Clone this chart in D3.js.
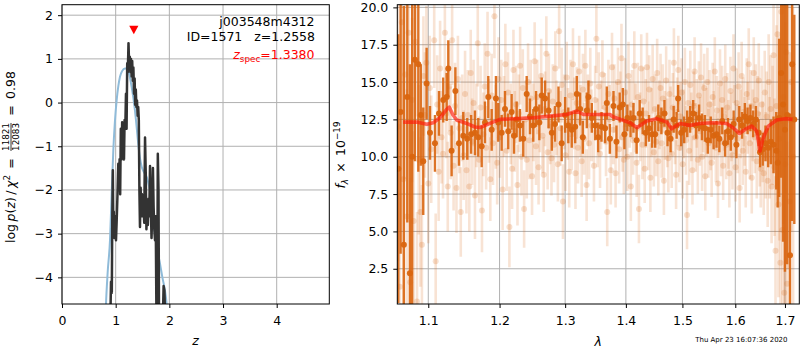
<!DOCTYPE html>
<html><head><meta charset="utf-8">
<script src="https://cdn.jsdelivr.net/npm/d3@7"></script>
<style>body{margin:0;background:#fff;} text{font-family:"DejaVu Sans",sans-serif;}</style>
</head><body><svg id="c" width="800" height="350"></svg>
<script>
// ---------------- data ----------------
// left panel: log p(z) (dark) and smoothed fit curve (blue)
const pzZ   = [0.903,0.913,0.928,0.937,0.947,0.956,0.965,0.978,0.991,1.006,1.019,1.034,1.049,1.062,1.073,1.084,1.096,1.109,1.121,1.132,1.144,1.155,1.166,1.179,1.192,1.203,1.215,1.226,1.239,1.252,1.263,1.274,1.286,1.297,1.308,1.319,1.330,1.342,1.353,1.364,1.375,1.386,1.397,1.409,1.420,1.431,1.442,1.453,1.465,1.477,1.491,1.504,1.517,1.532,1.547,1.560,1.573,1.586,1.599,1.612,1.625,1.640,1.655,1.668,1.681,1.694,1.707,1.720,1.733,1.746,1.759,1.774,1.785,1.798,1.807,1.882,1.893,1.908,1.919];
const pzLog = [-4.8,-4.1,-4.35,-2.6,-1.55,-2.9,-2.5,-3.1,-2.6,-3.15,-2.7,-2.1,-1.4,-2.0,-1.3,-2.1,-0.6,-1.3,-0.45,-1.2,-0.5,-1.3,-0.4,-0.6,0.2,-0.6,0.9,0.7,1.36,0.8,1.05,0.7,1.0,0.6,0.95,0.5,0.8,0.2,0.55,-0.05,0.3,-0.1,0.05,-0.3,-0.1,-0.4,-2.0,-2.85,-1.95,-2.6,-2.1,-2.6,-2.3,-2.75,-0.8,-1.6,-2.9,-2.3,-2.8,-2.2,-2.6,-1.45,-2.4,-3.1,-2.5,-1.5,-2.4,-2.9,-3.15,-2.6,-4.8,-4.8,-1.17,-2.0,-4.8,-4.8,-4.2,-4.3,-4.8];
const fitZ   = [0.80,0.82,0.85,0.894,0.925,0.956,0.985,1.018,1.05,1.08,1.12,1.173,1.205,1.235,1.265,1.297,1.33,1.359,1.39,1.42,1.45,1.484,1.53,1.577,1.62,1.67,1.70,1.73,1.78,1.825,1.87,1.918,1.95,1.97];
const fitLog = [-5.3,-4.6,-3.9,-3.15,-2.1,-1.09,-0.45,0.05,0.38,0.59,0.72,0.78,0.78,0.74,0.58,0.36,0.1,-0.18,-0.55,-0.94,-1.25,-1.47,-1.6,-1.70,-1.9,-2.24,-2.6,-3.0,-3.4,-3.68,-4.0,-4.3,-4.61,-4.9];
const zSpec = 1.338, zSpecMarker = 1.66;
const zTicks = [0,1,2,3,4];
const logTicks = [-4,-3,-2,-1,0,1,2];
const infoLines = ["j003548m4312", "ID=1571   z=1.2558"];
const zSpecLabel = "=1.3380";

// right panel: spectrum
const lamTicks = [1.1,1.2,1.3,1.4,1.5,1.6,1.7];
const fluxTicks = [2.5,5.0,7.5,10.0,12.5,15.0,17.5,20.0];
// combined spectrum [lambda, flux, err]
const binned = [
[1.0605,9.2,9.0],[1.0635,13.0,9.5],[1.0677,4.1,16.0],[1.0722,14.0,8.4],[1.0756,2.2,14.0],[1.0786,10.0,12.0],[1.0822,16.5,6.8],[1.0867,16.2,7.2],[1.0900,12.8,3.4],[1.0933,9.7,3.6],[1.0978,14.9,2.4],
[1.1023,11.6,1.8],[1.1090,10.9,1.9],[1.1145,12.9,1.5],[1.1203,13.8,1.5],[1.1250,14.0,1.6],[1.1272,15.9,1.9],[1.1318,10.4,1.7],[1.1370,14.4,1.6],[1.1420,10.9,1.5],[1.1480,11.4,1.6],[1.1536,11.2,1.4],[1.1590,11.5,1.3],[1.1645,11.6,1.5],[1.1692,11.3,1.3],[1.1741,10.7,1.4],[1.1788,12.3,1.4],[1.1836,14.0,1.4],[1.1885,11.8,1.4],[1.1947,13.9,1.5],[1.1981,12.3,1.3],
[1.2031,11.6,1.2],[1.2080,13.2,1.2],[1.2128,11.7,1.2],[1.2178,13.0,1.2],[1.2213,11.4,1.2],[1.2253,12.5,1.2],[1.2302,12.1,1.1],[1.2352,11.2,1.2],[1.2404,14.2,1.2],[1.2454,12.7,1.2],[1.2504,12.1,1.1],[1.2546,13.2,1.2],[1.2597,12.3,1.2],[1.2634,14.1,1.2],[1.2685,13.9,1.2],[1.2740,13.1,1.2],[1.2790,11.6,1.2],[1.2840,12.2,1.2],[1.2895,13.5,1.2],[1.2945,10.9,1.2],[1.3000,12.8,1.2],[1.3050,12.1,1.2],[1.3105,11.8,1.2],[1.3160,12.0,1.1],[1.3186,14.2,1.2],[1.3240,13.2,1.1],[1.3283,11.3,1.1],[1.3348,13.1,1.2],[1.3375,14.0,1.1],[1.3430,12.6,1.0],[1.3485,12.1,1.0],[1.3535,11.3,1.0],[1.3590,12.0,1.0],[1.3650,11.9,1.0],[1.3678,13.6,1.1],[1.3730,11.2,1.0],[1.3790,13.4,1.0],[1.3840,11.0,1.1],[1.3895,13.3,1.0],[1.3948,13.5,1.1],[1.3975,11.5,1.0],
[1.4025,12.6,0.9],[1.4080,12.2,0.9],[1.4130,12.6,1.0],[1.4185,11.1,0.9],[1.4238,12.9,0.9],[1.4290,12.4,0.9],[1.4345,11.6,0.9],[1.4400,11.9,0.9],[1.4455,11.5,0.9],[1.4510,11.5,0.9],[1.4565,12.6,0.9],[1.4620,12.4,0.9],[1.4675,12.9,0.9],[1.4730,11.6,0.9],[1.4785,11.2,0.9],[1.4840,12.5,0.9],[1.4895,12.1,0.9],[1.4922,13.9,0.9],[1.4978,11.6,0.9],[1.5032,11.8,0.9],[1.5088,12.2,0.9],[1.5142,12.5,0.9],[1.5198,12.9,0.9],[1.5252,12.1,0.9],[1.5308,12.6,0.9],[1.5362,12.0,0.9],[1.5418,11.9,0.9],[1.5472,11.1,0.9],[1.5528,11.8,0.9],[1.5582,11.4,0.9],[1.5638,11.5,0.9],[1.5692,11.2,0.9],[1.5748,12.4,0.9],[1.5802,10.9,0.9],[1.5858,11.7,0.9],[1.5912,11.3,0.9],[1.5968,12.2,0.9],[1.6022,10.8,0.9],[1.6078,12.5,0.9],[1.6132,12.1,0.9],[1.6188,12.7,0.9],[1.6242,12.4,0.9],[1.6298,12.6,0.9],[1.6352,12.2,0.9],[1.6408,12.5,0.9],[1.6462,11.6,0.9],
[1.6490,10.3,1.0],[1.6545,10.5,1.1],[1.6600,10.9,1.2],[1.6655,10.6,1.3],[1.6710,11.0,1.5],[1.6765,10.8,1.9],[1.6820,10.4,2.6],[1.6850,9.6,3.0],[1.6880,12.6,5.3],[1.6920,15.6,7.0],[1.6960,13.5,9.2],[1.7000,11.8,9.5],[1.7045,12.8,10.0],[1.7105,3.4,9.5],[1.7150,16.2,10.5],[1.7195,12.5,7.0]
];
// individual exposures [lambda, flux, err]
const exposures = [
[1.0600,12.0,9.0],[1.0625,1.3,8.0],[1.0650,19.0,6.0],[1.0670,8.5,9.0],[1.0695,15.5,7.0],[1.0715,6.0,8.5],[1.0740,18.3,6.0],[1.0760,1.6,7.0],[1.0785,13.8,5.5],[1.0805,5.7,6.0],[1.0830,17.7,5.0],[1.0850,0.3,6.0],[1.0872,9.8,5.0],[1.0895,6.3,5.0],[1.0915,4.1,4.0],[1.0935,15.4,4.0],[1.0955,12.8,4.2],[1.0975,16.3,3.8],[1.1000,8.2,4.0],[1.1020,14.6,3.5],[1.1040,10.5,3.6],[1.1080,17.8,3.2],[1.1100,3.0,3.2],[1.1120,13.5,3.3],[1.1140,9.0,3.3],[1.1160,15.9,3.2],[1.1180,11.3,3.1],
[1.1200,10.2,3.0],[1.1225,18.3,3.0],[1.1245,12.9,3.0],[1.1265,8.0,3.0],[1.1285,14.7,3.0],[1.1305,11.6,3.1],[1.1325,17.8,3.0],[1.1345,9.4,3.0],[1.1365,13.4,2.9],[1.1385,7.9,3.0],[1.1405,15.2,2.9],[1.1425,11.9,3.0],[1.1445,6.3,3.0],[1.1465,12.6,2.9],[1.1485,10.1,3.0],[1.1505,14.2,2.9],[1.1525,9.1,2.9],[1.1545,12.8,3.0],[1.1565,8.0,3.0],[1.1585,15.6,2.9],[1.1605,11.0,2.9],[1.1625,13.6,2.9],[1.1645,7.4,2.9],[1.1665,12.1,2.8],[1.1685,17.6,2.9],[1.1705,9.8,2.9],[1.1725,13.3,2.8],[1.1745,6.4,2.8],[1.1765,11.5,2.8],[1.1785,14.7,2.9],[1.1805,10.6,2.8],[1.1825,16.9,2.8],[1.1845,12.4,2.8],[1.1865,8.5,2.8],[1.1885,14.1,2.8],[1.1905,10.9,2.8],[1.1925,19.4,2.8],[1.1945,12.0,2.8],[1.1965,9.6,2.8],[1.1985,15.2,2.8],
[1.2005,11.3,2.7],[1.2025,13.8,2.7],[1.2045,7.8,2.7],[1.2065,12.7,2.7],[1.2085,16.2,2.7],[1.2105,10.4,2.7],[1.2125,14.3,2.7],[1.2145,5.3,2.7],[1.2165,12.2,2.7],[1.2185,9.2,2.7],[1.2205,15.8,2.7],[1.2225,11.7,2.7],[1.2245,13.5,2.6],[1.2265,8.1,2.7],[1.2285,12.9,2.6],[1.2305,16.1,2.6],[1.2325,10.0,2.6],[1.2345,14.6,2.6],[1.2365,6.5,2.6],[1.2385,12.5,2.6],[1.2405,9.8,2.6],[1.2425,15.0,2.6],[1.2445,11.1,2.6],[1.2465,13.9,2.6],[1.2485,8.7,2.6],[1.2505,12.3,2.6],[1.2525,16.4,2.6],[1.2545,10.7,2.6],[1.2565,14.0,2.5],[1.2585,9.3,2.5],[1.2605,12.8,2.5],[1.2625,15.4,2.5],[1.2645,11.4,2.5],[1.2665,8.8,2.5],[1.2685,13.2,2.5],[1.2705,16.9,2.5],[1.2725,10.3,2.5],[1.2745,14.4,2.5],[1.2765,12.0,2.5],[1.2785,9.9,2.5],[1.2805,13.7,2.5],[1.2825,10.8,2.5],[1.2845,15.9,2.5],[1.2865,12.6,2.5],[1.2885,9.5,2.5],[1.2905,18.4,2.5],[1.2925,11.9,2.5],[1.2945,14.8,2.5],[1.2965,7.0,2.5],[1.2985,13.0,2.5],
[1.3005,10.1,2.4],[1.3025,15.3,2.4],[1.3045,12.2,2.4],[1.3065,9.0,2.4],[1.3085,14.1,2.4],[1.3105,11.5,2.4],[1.3125,16.2,2.4],[1.3145,12.9,2.4],[1.3165,8.9,2.4],[1.3185,13.6,2.4],[1.3205,10.6,2.4],[1.3225,15.7,2.4],[1.3245,12.4,2.4],[1.3265,9.7,2.4],[1.3285,14.5,2.4],[1.3305,11.2,2.4],[1.3325,16.1,2.4],[1.3345,8.1,2.4],[1.3365,13.1,2.4],[1.3385,10.9,2.4],[1.3405,14.9,2.4],[1.3425,12.1,2.4],[1.3465,9.4,2.4],[1.3485,13.8,2.3],[1.3505,17.9,2.3],[1.3525,11.6,2.3],[1.3545,14.7,2.3],[1.3565,10.2,2.3],[1.3585,12.8,2.3],[1.3605,15.5,2.3],[1.3645,13.3,2.3],[1.3665,11.0,2.3],[1.3685,6.3,2.3],[1.3705,14.2,2.3],[1.3725,12.5,2.3],[1.3745,9.1,2.3],[1.3765,16.0,2.3],[1.3785,11.8,2.3],[1.3805,13.9,2.3],[1.3825,8.9,2.3],[1.3845,12.7,2.3],[1.3865,15.0,2.3],[1.3885,10.5,2.3],[1.3905,13.4,2.3],[1.3925,16.6,2.3],[1.3945,11.3,2.3],[1.3965,9.8,2.3],[1.3985,14.3,2.3],
[1.4005,12.2,2.3],[1.4025,10.0,2.3],[1.4045,15.4,2.3],[1.4065,12.9,2.3],[1.4085,8.0,2.3],[1.4105,13.5,2.3],[1.4125,11.1,2.3],[1.4145,16.1,2.3],[1.4165,12.6,2.3],[1.4185,9.6,2.3],[1.4205,14.0,2.3],[1.4225,6.5,2.3],[1.4245,12.0,2.3],[1.4265,15.9,2.3],[1.4285,10.8,2.3],[1.4305,13.7,2.3],[1.4325,9.2,2.3],[1.4345,12.9,2.3],[1.4365,16.0,2.3],[1.4385,11.4,2.3],[1.4405,14.5,2.3],[1.4425,8.6,2.3],[1.4445,12.3,2.3],[1.4465,15.2,2.3],[1.4485,10.3,2.3],[1.4505,13.2,2.3],[1.4525,11.0,2.3],[1.4545,15.6,2.3],[1.4565,9.7,2.3],[1.4585,12.8,2.3],[1.4605,14.6,2.3],[1.4625,10.9,2.3],[1.4645,13.9,2.3],[1.4665,8.4,2.3],[1.4685,12.1,2.3],[1.4705,15.1,2.3],[1.4725,11.6,2.3],[1.4745,9.9,2.3],[1.4765,14.2,2.3],[1.4785,12.4,2.3],[1.4805,10.2,2.3],[1.4825,13.3,2.3],[1.4845,16.3,2.3],[1.4865,11.8,2.3],[1.4885,8.8,2.3],[1.4905,13.0,2.3],[1.4925,15.8,2.3],[1.4945,10.6,2.3],[1.4965,12.7,2.3],[1.4985,14.3,2.3],
[1.5005,9.5,2.3],[1.5025,12.2,2.3],[1.5045,15.0,2.3],[1.5065,11.1,2.3],[1.5085,6.1,2.3],[1.5105,13.6,2.3],[1.5125,10.4,2.3],[1.5145,14.8,2.3],[1.5165,12.0,2.3],[1.5185,9.1,2.3],[1.5205,13.4,2.3],[1.5225,15.7,2.3],[1.5245,11.3,2.3],[1.5265,12.9,2.3],[1.5285,9.8,2.3],[1.5305,14.1,2.3],[1.5325,11.7,2.3],[1.5345,15.3,2.3],[1.5365,10.0,2.3],[1.5385,12.6,2.3],[1.5405,14.6,2.3],[1.5425,8.7,2.3],[1.5445,12.3,2.3],[1.5465,15.0,2.3],[1.5485,10.9,2.3],[1.5505,13.5,2.3],[1.5525,11.4,2.3],[1.5545,9.6,2.3],[1.5565,14.0,2.3],[1.5585,12.1,2.3],[1.5605,15.7,2.3],[1.5625,10.6,2.3],[1.5645,13.1,2.3],[1.5665,8.2,2.3],[1.5685,12.4,2.3],[1.5705,14.9,2.3],[1.5725,11.0,2.3],[1.5745,13.8,2.3],[1.5765,9.4,2.3],[1.5785,12.7,2.3],[1.5805,15.2,2.3],[1.5825,10.8,2.3],[1.5845,13.3,2.3],[1.5865,11.5,2.3],[1.5885,8.9,2.3],[1.5905,14.4,2.3],[1.5925,12.0,2.3],[1.5945,10.1,2.3],[1.5965,15.9,2.3],[1.5985,12.5,2.3],
[1.6005,9.3,2.3],[1.6025,13.6,2.3],[1.6045,11.2,2.3],[1.6065,14.7,2.3],[1.6085,7.9,2.3],[1.6105,12.2,2.3],[1.6125,15.4,2.3],[1.6145,10.4,2.3],[1.6165,13.0,2.3],[1.6185,11.7,2.3],[1.6205,9.0,2.4],[1.6225,14.2,2.4],[1.6245,12.6,2.4],[1.6265,16.2,2.4],[1.6285,10.9,2.4],[1.6305,13.4,2.4],[1.6325,8.6,2.4],[1.6345,12.1,2.4],[1.6365,15.6,2.4],[1.6385,11.3,2.4],[1.6405,13.8,2.4],[1.6425,9.7,2.5],[1.6445,12.9,2.5],[1.6465,15.1,2.5],[1.6485,10.5,2.5],[1.6505,9.2,2.6],[1.6525,13.5,2.6],[1.6545,11.0,2.7],[1.6565,8.9,2.8],[1.6585,14.3,2.8],[1.6605,10.1,2.9],[1.6625,12.7,3.0],[1.6645,8.4,3.1],[1.6665,15.0,3.2],[1.6685,10.6,3.4],[1.6705,13.2,3.6],[1.6725,8.0,3.8],[1.6745,12.1,4.0],[1.6765,16.8,4.3],[1.6785,9.3,4.6],[1.6805,3.7,5.0],[1.6825,13.4,5.4],[1.6845,18.2,5.8],[1.6865,6.8,6.2],[1.6885,11.2,6.8],[1.6905,2.9,7.5],[1.6925,19.7,7.5],[1.6945,5.1,8.0],[1.6965,14.0,8.5],[1.6985,0.9,9.0],[1.7005,9.5,9.5],[1.7025,17.0,9.5],[1.7045,1.5,9.5],[1.7070,12.5,10.0],[1.7100,7.0,10.0],[1.7130,15.0,10.0],[1.7170,10.0,10.0]
];
// best-fit model
const modelLam  = [1.0669,1.0845,1.0979,1.1067,1.1158,1.1250,1.1286,1.1333,1.1388,1.1528,1.1645,1.1717,1.1860,1.2006,1.2253,1.2504,1.2762,1.3026,1.3186,1.3293,1.3512,1.3731,1.3781,1.4070,1.4191,1.4360,1.4536,1.4719,1.4804,1.4955,1.5138,1.5326,1.5571,1.5833,1.5956,1.6079,1.6191,1.6324,1.6424,1.6490,1.6545,1.6658,1.6830,1.7005,1.7157];
const modelFlux = [12.32,12.32,12.17,12.28,12.61,13.17,13.32,12.83,12.46,12.23,11.99,11.96,12.23,12.5,12.55,12.61,12.72,12.83,13.06,12.83,12.83,12.83,12.68,12.28,11.94,12.39,12.55,12.32,11.87,12.23,12.1,12.23,12.28,12.23,11.94,11.56,11.83,12.05,11.72,10.38,11.16,12.05,12.46,12.55,12.5];
const timestamp = "Thu Apr 23 16:07:36 2020";

// ---------------- drawing ----------------
const svg = d3.select('#c');
const FS = 12.5;
const gridCol = '#b0b0b0';

// LEFT PANEL
const L = {x0:62, x1:329.3, y0:4.7, y1:304};
const xz = d3.scaleLinear().domain([0, 4.98]).range([L.x0, L.x1]);
const yp = d3.scaleLinear().domain([-4.61, 2.24]).range([L.y1, L.y0]);

svg.append('clipPath').attr('id','clipL').append('rect')
  .attr('x',L.x0).attr('y',L.y0).attr('width',L.x1-L.x0).attr('height',L.y1-L.y0);

const gL = svg.append('g');
gL.selectAll('.gx').data(zTicks).enter().append('line')
  .attr('x1',d=>xz(d)).attr('x2',d=>xz(d)).attr('y1',L.y0).attr('y2',L.y1)
  .attr('stroke',gridCol).attr('stroke-width',1);
gL.selectAll('.gy').data(logTicks).enter().append('line')
  .attr('y1',d=>yp(d)).attr('y2',d=>yp(d)).attr('x1',L.x0).attr('x2',L.x1)
  .attr('stroke',gridCol).attr('stroke-width',1);

const plotL = svg.append('g').attr('clip-path','url(#clipL)');
plotL.append('path')
  .attr('d', d3.line().x((d,i)=>xz(fitZ[i])).y((d,i)=>yp(fitLog[i])).curve(d3.curveMonotoneX)(fitZ))
  .attr('fill','none').attr('stroke','#8fbbd9').attr('stroke-width',2);
plotL.append('path')
  .attr('d', d3.line().x((d,i)=>xz(pzZ[i])).y((d,i)=>yp(pzLog[i]))(pzZ))
  .attr('fill','none').attr('stroke','#333').attr('stroke-width',2.5).attr('stroke-linejoin','round');

// zspec marker
const mx = xz(zSpec), my = yp(zSpecMarker);
svg.append('path').attr('d',`M${mx-4.6},${my-4.2}L${mx+4.6},${my-4.2}L${mx},${my+4.2}Z`).attr('fill','red');

// axes left
const axXL = svg.append('g').attr('transform',`translate(0,${L.y1})`)
  .call(d3.axisBottom(xz).tickValues(zTicks).tickSize(4).tickPadding(8).tickFormat(d3.format('d')));
const axYL = svg.append('g').attr('transform',`translate(${L.x0},0)`)
  .call(d3.axisLeft(yp).tickValues(logTicks).tickSize(4).tickPadding(5).tickFormat(d3.format('d')));
[axXL, axYL].forEach(a=>{
  a.select('.domain').remove();
  a.attr('font-size',FS).attr('font-family','"DejaVu Sans", sans-serif');
  a.selectAll('text').attr('fill','#000');
});
svg.append('rect').attr('x',L.x0).attr('y',L.y0).attr('width',L.x1-L.x0).attr('height',L.y1-L.y0)
  .attr('fill','none').attr('stroke','#000').attr('stroke-width',1);

// info text
svg.append('text').attr('x',314.5).attr('y',26).attr('text-anchor','end').attr('font-size',FS).text(infoLines[0]);
svg.append('text').attr('x',315).attr('y',41).attr('text-anchor','end').attr('font-size',FS)
  .style('white-space','pre').text(infoLines[1]);
const zt = svg.append('text').attr('x',314.5).attr('y',59).attr('text-anchor','end').attr('font-size',FS).attr('fill','red');
zt.append('tspan').attr('font-style','italic').text('z');
zt.append('tspan').attr('font-size',8.8).attr('dy',3).text('spec');
zt.append('tspan').attr('dy',-3).text(zSpecLabel);

// x label left
svg.append('text').attr('x',(L.x0+L.x1)/2).attr('y',345).attr('text-anchor','middle')
  .attr('font-size',FS).attr('font-style','italic').text('z');

// y label left (with fraction)
const lab = svg.append('g').attr('transform','translate(15,243) rotate(-90)');
const t1 = lab.append('text').attr('x',0).attr('y',0).attr('font-size',FS);
t1.append('tspan').text('log\u2009');
t1.append('tspan').attr('font-style','italic').text('p');
t1.append('tspan').text('(');
t1.append('tspan').attr('font-style','italic').text('z');
t1.append('tspan').text(')\u2009/\u2009');
t1.append('tspan').attr('font-style','italic').text('χ');
t1.append('tspan').attr('font-size',8.8).attr('dy',-5).text('2');
t1.append('tspan').attr('dy',5).text('\u2002=\u2002');
const w1 = t1.node().getComputedTextLength();
const num = lab.append('text').attr('font-size',8.8).attr('text-anchor','middle').attr('y',-5.8).text('11821');
const fw = num.node().getComputedTextLength();
num.attr('x', w1 + 1 + fw/2);
lab.append('text').attr('font-size',8.8).attr('text-anchor','middle').attr('y',3.6).attr('x', w1 + 1 + fw/2).text('12083');
lab.append('line').attr('x1',w1+1).attr('x2',w1+1+fw).attr('y1',-4).attr('y2',-4).attr('stroke','#000').attr('stroke-width',0.8);
lab.append('text').attr('font-size',FS).attr('x', w1 + 2 + fw).attr('y',0).text('\u2002=\u20020.98');

// RIGHT PANEL
const R = {x0:397.3, x1:799.3, y0:4.7, y1:304};
const xl = d3.scaleLog().domain([1.0592, 1.7300]).range([R.x0, R.x1]);
const yf = d3.scaleLinear().domain([0.14, 20.18]).range([R.y1, R.y0]);

svg.append('clipPath').attr('id','clipR').append('rect')
  .attr('x',R.x0).attr('y',R.y0).attr('width',R.x1-R.x0).attr('height',R.y1-R.y0);

const gR = svg.append('g');
gR.selectAll('.gx').data(lamTicks).enter().append('line')
  .attr('x1',d=>xl(d)).attr('x2',d=>xl(d)).attr('y1',R.y0).attr('y2',R.y1)
  .attr('stroke',gridCol).attr('stroke-width',1);
gR.selectAll('.gy').data(fluxTicks).enter().append('line')
  .attr('y1',d=>yf(d)).attr('y2',d=>yf(d)).attr('x1',R.x0).attr('x2',R.x1)
  .attr('stroke',gridCol).attr('stroke-width',1);

const plotR = svg.append('g').attr('clip-path','url(#clipR)');
const orange = '#d9650f';
const lightG = plotR.append('g');
lightG.selectAll('line').data(exposures).enter().append('line')
  .attr('x1',d=>xl(d[0])).attr('x2',d=>xl(d[0]))
  .attr('y1',d=>yf(d[1]-d[2])).attr('y2',d=>yf(d[1]+d[2]))
  .attr('stroke',orange).attr('stroke-opacity',0.18).attr('stroke-width',2.6);
lightG.selectAll('circle').data(exposures).enter().append('circle')
  .attr('cx',d=>xl(d[0])).attr('cy',d=>yf(d[1])).attr('r',3)
  .attr('fill',orange).attr('fill-opacity',0.2);

const darkG = plotR.append('g');
darkG.selectAll('line').data(binned).enter().append('line')
  .attr('x1',d=>xl(d[0])).attr('x2',d=>xl(d[0]))
  .attr('y1',d=>yf(d[1]-d[2])).attr('y2',d=>yf(d[1]+d[2]))
  .attr('stroke',orange).attr('stroke-opacity',0.9).attr('stroke-width',2.4);
darkG.selectAll('circle').data(binned).enter().append('circle')
  .attr('cx',d=>xl(d[0])).attr('cy',d=>yf(d[1])).attr('r',3)
  .attr('fill',orange).attr('fill-opacity',0.95);

plotR.append('path')
  .attr('d', d3.line().x((d,i)=>xl(modelLam[i])).y((d,i)=>yf(modelFlux[i]))(modelLam))
  .attr('fill','none').attr('stroke','#ff1a0a').attr('stroke-opacity',0.65).attr('stroke-width',3.6)
  .attr('stroke-linejoin','round');

const axXR = svg.append('g').attr('transform',`translate(0,${R.y1})`)
  .call(d3.axisBottom(xl).tickValues(lamTicks).tickSize(4).tickPadding(8).tickFormat(d3.format('.1f')));
const axYR = svg.append('g').attr('transform',`translate(${R.x0},0)`)
  .call(d3.axisLeft(yf).tickValues(fluxTicks).tickSize(4).tickPadding(5).tickFormat(d3.format('.1f')));
[axXR, axYR].forEach(a=>{
  a.select('.domain').remove();
  a.attr('font-size',FS).attr('font-family','"DejaVu Sans", sans-serif');
  a.selectAll('text').attr('fill','#000');
});
svg.append('rect').attr('x',R.x0).attr('y',R.y0).attr('width',R.x1-R.x0).attr('height',R.y1-R.y0)
  .attr('fill','none').attr('stroke','#000').attr('stroke-width',1);

svg.append('text').attr('x',(R.x0+R.x1)/2).attr('y',346).attr('text-anchor','middle')
  .attr('font-size',FS).attr('font-style','italic').text('λ');

const rl = svg.append('g').attr('transform','translate(345,155) rotate(-90)')
  .append('text').attr('text-anchor','middle').attr('font-size',FS);
rl.append('tspan').attr('font-style','italic').text('f');
rl.append('tspan').attr('font-size',8.8).attr('font-style','italic').attr('dy',3).text('λ');
rl.append('tspan').attr('dy',-3).text('\u2002×\u200210');
rl.append('tspan').attr('font-size',8.8).attr('dy',-5.5).text('−19');

svg.append('text').attr('x',787.5).attr('y',341.5).attr('text-anchor','end').attr('font-size',7).text(timestamp);
</script></body></html>
